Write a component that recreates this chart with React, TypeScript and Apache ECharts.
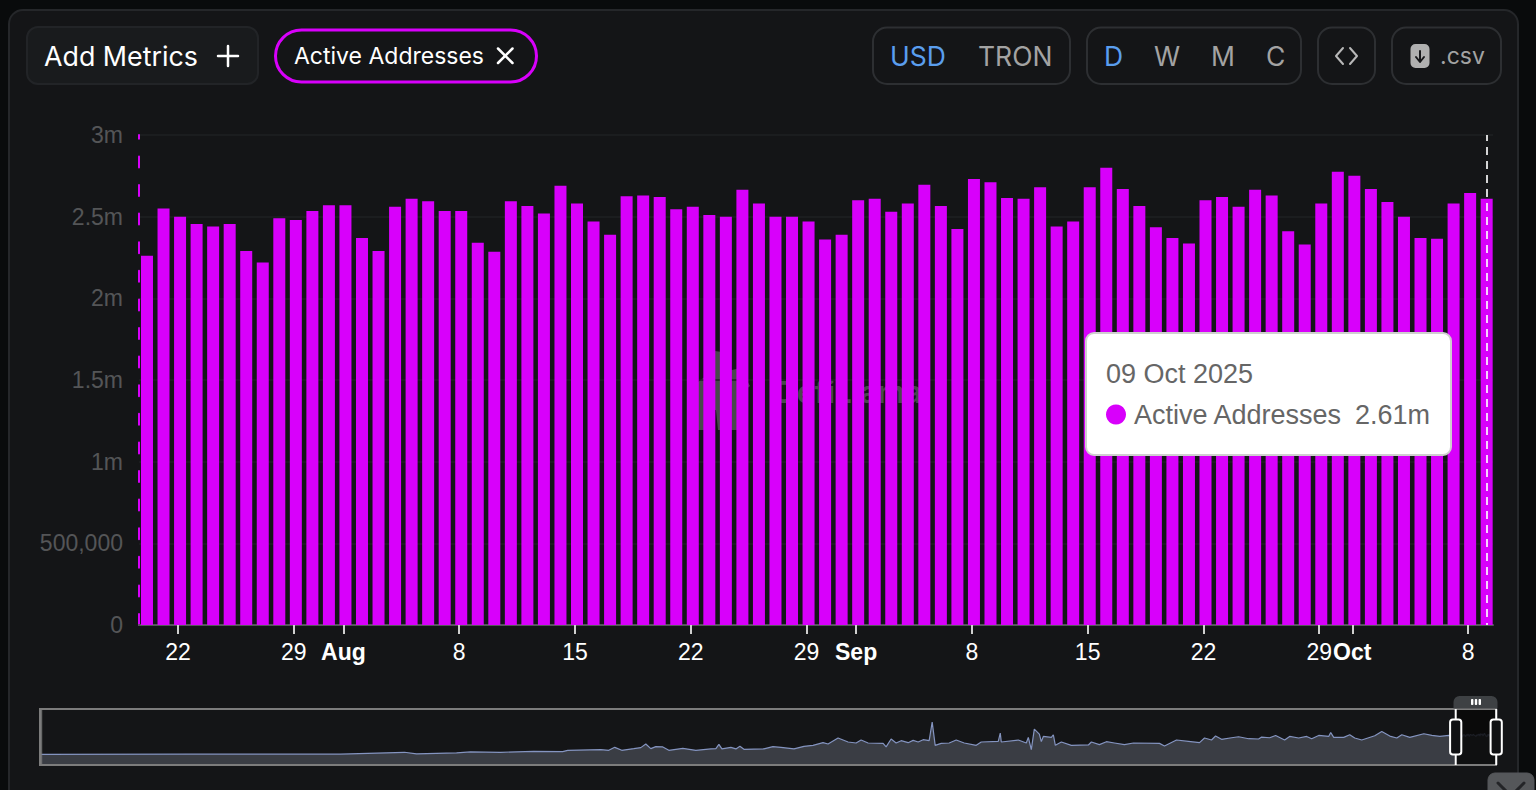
import React, { useEffect, useRef } from "react";
import * as echarts from "echarts";

// Daily active addresses, 20 Jul 2025 .. 09 Oct 2025 (millions)
const FIRST_DAY = [2025, 6, 20];
const barValues = [
  2.26, 2.55, 2.5, 2.455, 2.44, 2.455, 2.29, 2.22, 2.49, 2.48, 2.535, 2.57, 2.57, 2.37, 2.29, 2.56, 2.61,
  2.595, 2.535, 2.535, 2.34, 2.285, 2.595, 2.565, 2.52, 2.69, 2.58, 2.47, 2.39, 2.625, 2.63, 2.62, 2.545,
  2.56, 2.51, 2.5, 2.665, 2.58, 2.5, 2.5, 2.47, 2.36, 2.39, 2.6, 2.61, 2.53, 2.58, 2.695, 2.565, 2.425,
  2.73, 2.71, 2.615, 2.61, 2.68, 2.44, 2.47, 2.68, 2.8, 2.67, 2.565, 2.435, 2.37, 2.335, 2.6, 2.62, 2.56,
  2.665, 2.63, 2.41, 2.33, 2.58, 2.775, 2.75, 2.67, 2.59, 2.5, 2.37, 2.365, 2.58, 2.645, 2.61,
];

// Full history for the overview strip: days since 23 Oct 2017, and millions (same row layout)
const HISTORY_START = [2017, 9, 23];
const overviewDays = [
  0, 300, 600, 728, 752, 832, 860, 920, 986, 1044,
  1054, 1120, 1136, 1148, 1162, 1186, 1200, 1210, 1220, 1230,
  1244, 1256, 1284, 1310, 1340, 1350, 1356, 1362, 1380, 1390,
  1398, 1406, 1446, 1464, 1480, 1506, 1526, 1544, 1564, 1574,
  1594, 1614, 1630, 1640, 1654, 1684, 1690, 1700, 1710, 1720,
  1734, 1744, 1754, 1764, 1776, 1782, 1788, 1800, 1816, 1830,
  1846, 1870, 1880, 1914, 1918, 1920, 1954, 1970, 1974, 1980,
  1986, 1996, 2000, 2004, 2020, 2024, 2028, 2040, 2060, 2094,
  2100, 2116, 2130, 2146, 2166, 2184, 2236, 2246, 2270, 2294,
  2316, 2326, 2340, 2348, 2360, 2380, 2394, 2414, 2434, 2440,
  2456, 2468, 2486, 2496, 2514, 2530, 2540, 2554, 2574, 2578,
  2584, 2604, 2616, 2626, 2640, 2666, 2680, 2696, 2710, 2720,
  2736, 2764, 2780, 2796, 2814,
];
const overviewValues = [
  0.02, 0.05, 0.05, 0.3, 0.1, 0.22, 0.35, 0.3, 0.43, 0.39,
  0.56, 0.65, 0.56, 0.95, 0.56, 0.78, 0.91, 1.39, 0.78, 1.04,
  1.0, 0.56, 0.82, 0.56, 0.74, 0.78, 1.34, 0.74, 0.95, 0.74,
  1.08, 0.69, 0.74, 1.04, 0.95, 0.74, 1.08, 1.21, 1.56, 1.39,
  2.17, 1.65, 1.52, 1.91, 1.52, 1.47, 1.0, 2.04, 1.52, 1.82,
  1.56, 1.86, 1.65, 1.95, 1.82, 4.25, 1.21, 1.47, 1.52, 1.91,
  1.52, 1.21, 1.65, 1.73, 2.82, 1.65, 1.91, 1.52, 2.25, 0.65,
  3.34, 2.69, 1.7, 2.38, 2.25, 2.6, 1.21, 1.65, 1.21, 1.26,
  1.65, 1.3, 1.69, 1.52, 1.3, 1.52, 1.47, 1.13, 1.91, 1.73,
  1.56, 2.17, 1.91, 2.43, 2.0, 2.21, 2.34, 2.08, 2.04, 2.3,
  2.21, 2.51, 1.91, 2.38, 2.17, 2.38, 2.08, 2.51, 2.38, 2.9,
  2.25, 2.25, 2.6, 2.17, 1.91, 2.47, 3.03, 2.43, 2.17, 2.6,
  2.25, 2.73, 2.51, 2.38, 2.51,
];

const yTicksMax = 3000000;
const yTicksStep = 500000;
const metricName = "Active Addresses";
const xLabelMonths = ["Jan", "Feb", "Mar", "Apr", "May", "Jun", "Jul", "Aug", "Sep", "Oct", "Nov", "Dec"];

const DAY = 86400000;
const MAGENTA = "#d800fb";
const SANS = '"Liberation Sans", Arial, sans-serif';
const INTER = "Inter, sans-serif";

const barTime = (i: number) =>
  new Date(FIRST_DAY[0], FIRST_DAY[1], FIRST_DAY[2] + i, 3).getTime();
const fmtValue = (v: number) => {
  if (v >= 1000000) return `${+(v / 1000000).toFixed(2)}m`;
  return v.toLocaleString("en-US");
};

const label = (text: string, x: number, y: number, fill: string, fontSize: number, align = "left", fontFamily = INTER, extra: any = {}) => ({
  type: "text",
  style: { text, x, y, fill, fontSize, fontFamily, align, verticalAlign: "middle", ...extra },
  silent: true,
});
const box = (x: number, y: number, width: number, height: number, r: any, fill: string, stroke: string, lineWidth = 2) => ({
  type: "rect",
  shape: { x, y, width, height, r },
  style: { fill, stroke, lineWidth },
  silent: true,
});
const stroke = (points: number[][], color: string, lineWidth = 2.5) => ({
  type: "polyline",
  shape: { points },
  style: { stroke: color, lineWidth, fill: "none", lineCap: "round", lineJoin: "round" },
  silent: true,
});
const atZ = (z: number, items: any[]) => items.map((it) => ({ ...it, z }));

export default function App() {
  const ref = useRef<HTMLDivElement>(null);
  useEffect(() => {
    if (!ref.current) return;
    const chart = echarts.init(ref.current, undefined, { renderer: "svg" });

    const barData = barValues.map((v, i) => [barTime(i), v * 1000000]);
    const lastIdx = barValues.length - 1;
    const lastTime = barTime(lastIdx);
    const lastValue = barValues[lastIdx] * 1000000;
    const lastDate = new Date(lastTime);
    const tipDate = `${String(lastDate.getDate()).padStart(2, "0")} ${xLabelMonths[lastDate.getMonth()]} ${lastDate.getFullYear()}`;

    // ECharts pads a time axis by half a bar on each side: 1342px at 16.54px per day
    const windowDays = 81.14;
    const windowStart = barTime(0) - 0.12 * DAY;
    const windowEnd = windowStart + windowDays * DAY;
    const sliderMin = windowEnd - ((windowDays * 1456) / 42.5) * DAY;
    const historyStart = new Date(HISTORY_START[0], HISTORY_START[1], HISTORY_START[2]).getTime();

    const overviewData = [
      ...overviewDays.map((d, i) => [historyStart + d * DAY, overviewValues[i] * 1000000]),
      ...barData,
    ];

    chart.setOption({
      animation: false,
      backgroundColor: "#090b0c",
      grid: [
        { left: 139, top: 135, width: 1354, height: 490 },
        { left: 40, top: 709, width: 1456, height: 56 },
      ],
      xAxis: [
        {
          type: "time",
          gridIndex: 0,
          min: sliderMin,
          max: windowEnd,
          splitNumber: 8,
          splitLine: { show: false },
          axisLine: { lineStyle: { color: "#55575a", width: 2 } },
          axisTick: { show: true, length: 9, lineStyle: { color: "#d0d0d0", width: 2 } },
          axisLabel: {
            color: "#fff",
            fontFamily: SANS,
            fontSize: 23,
            margin: 15,
            hideOverlap: false,
            showMinLabel: false,
            showMaxLabel: false,
            formatter: (value: number) => {
              const d = new Date(value);
              return d.getDate() === 1 ? `{m|${xLabelMonths[d.getMonth()]}}` : `${d.getDate()}`;
            },
            rich: { m: { fontWeight: "bold", fontFamily: SANS, fontSize: 23, color: "#fff" } },
          },
        },
        { type: "time", gridIndex: 1, min: historyStart, max: windowEnd, show: false },
      ],
      yAxis: [
        {
          type: "value",
          gridIndex: 0,
          min: 0,
          max: yTicksMax,
          interval: yTicksStep,
          axisLine: { show: true, lineStyle: { color: MAGENTA, width: 2, type: [11, 17.6] } },
          axisTick: { show: false },
          splitLine: { lineStyle: { color: "#1e2023", width: 1.5 } },
          axisLabel: {
            color: "#545557",
            fontFamily: SANS,
            fontSize: 23,
            margin: 16,
            formatter: (v: number) => fmtValue(v),
          },
        },
        { type: "value", gridIndex: 1, min: -1370000, max: 5980000, show: false },
      ],
      dataZoom: [
        {
          type: "slider",
          xAxisIndex: 0,
          filterMode: "none",
          startValue: windowStart,
          endValue: windowEnd,
          left: 40,
          width: 1456,
          top: 709,
          height: 56,
          showDetail: false,
          showDataShadow: false,
          brushSelect: false,
          borderColor: "#7c7c7c",
          borderRadius: 0,
          backgroundColor: "transparent",
          fillerColor: "rgba(8,8,8,0.85)",
          handleSize: "100%",
          handleStyle: { color: "#101113", borderColor: "#ffffff", borderWidth: 2 },
          z: 6,
        },
      ],
      series: [
        {
          type: "bar",
          name: metricName,
          xAxisIndex: 0,
          yAxisIndex: 0,
          data: barData,
          barWidth: 12,
          clip: false,
          itemStyle: { color: MAGENTA },
          z: 3,
          markLine: {
            silent: true,
            symbol: "none",
            label: { show: false },
            lineStyle: { color: "rgba(255,255,255,0.82)", type: [8, 6], dashOffset: 6, width: 2 },
            data: [{ xAxis: lastTime }],
            z: 5,
          },
        },
        {
          type: "line",
          xAxisIndex: 1,
          yAxisIndex: 1,
          data: overviewData,
          showSymbol: false,
          lineStyle: { color: "#8494c0", width: 1.2 },
          areaStyle: { color: "#3a3d44", opacity: 1, origin: "start" },
          z: 1,
        },
      ],
      graphic: [
        // panel
        { ...box(9, 10, 1509, 800, 14, "#141517", "#25272a"), z: -10 },
        // watermark
        ...atZ(-5, [
          {
            type: "polygon",
            shape: {
              points: [
                [708, 350], [722, 352], [724, 372], [740, 368], [750, 386], [738, 396], [738, 430],
                [718, 430], [716, 410], [708, 410], [706, 430], [698, 430], [698, 382], [706, 376],
              ],
            },
            style: { fill: "#48494c" },
            silent: true,
          },
          label("DefiLlama", 775, 392, "#48494c", 30, "left", INTER, { fontWeight: 700 }),
        ]),
        // left toolbar
        box(27, 27, 231, 57, 11, "#191b1d", "#222427"),
        label("Add Metrics", 44, 56, "#ffffff", 26.8),
        stroke([[228, 46], [228, 66]], "#ffffff"),
        stroke([[218, 56], [238, 56]], "#ffffff"),
        box(275.5, 30, 261, 52, 26, "#141517", MAGENTA, 3),
        label(metricName, 294, 56, "#ffffff", 23),
        stroke([[498, 48.5], [512.5, 63]], "#ffffff"),
        stroke([[512.5, 48.5], [498, 63]], "#ffffff"),
        // right toolbar
        box(873, 27.5, 197, 56.5, 14, "transparent", "#2d2f32"),
        label("USD", 890, 56, "#5a9eee", 26.5),
        label("TRON", 978, 56, "#a3a3a3", 26.5),
        box(1087, 27.5, 214, 56.5, 14, "transparent", "#2d2f32"),
        label("D", 1104, 56, "#5a9eee", 26.5),
        label("W", 1154, 56, "#a3a3a3", 26.5),
        label("M", 1211, 56, "#a3a3a3", 26.5),
        label("C", 1266, 56, "#a3a3a3", 26.5),
        box(1318, 27.5, 57, 56.5, 14, "transparent", "#2d2f32"),
        stroke([[1343, 48], [1336, 56], [1343, 64]], "#b8b8b8", 2),
        stroke([[1350, 48], [1357, 56], [1350, 64]], "#b8b8b8", 2),
        box(1392, 27.5, 109, 56.5, 14, "transparent", "#2d2f32"),
        box(1411.5, 45, 17, 22, 4, "#b0b0b0", "#b0b0b0"),
        stroke([[1420, 51], [1420, 61]], "#17181a", 2),
        stroke([[1416, 57], [1420, 62], [1424, 57]], "#17181a", 2),
        label(".csv", 1440, 56, "#a3a3a3", 23),
        // slider frame and top grip (shown by the source on hover)
        { ...box(40, 709, 1456, 56, 0, "transparent", "#7c7c7c", 2), z: 5 },
        ...atZ(7, [
          box(1453.5, 696, 44, 12.5, [6, 6, 0, 0], "#3e4144", "#3e4144", 0),
          box(1471, 699, 2.4, 6, 0.8, "#ffffff", "#ffffff", 0),
          box(1474.8, 699, 2.4, 6, 0.8, "#ffffff", "#ffffff", 0),
          box(1478.6, 699, 2.4, 6, 0.8, "#ffffff", "#ffffff", 0),
        ]),
        // tooltip
        ...atZ(50, [
          box(1086, 333, 365, 122, 8, "#ffffff", "#cfcfcf"),
          label(tipDate, 1106, 374, "#666666", 27, "left", SANS),
          { type: "circle", shape: { cx: 1116, cy: 414.5, r: 10 }, style: { fill: MAGENTA }, silent: true },
          label(metricName, 1134, 415, "#666666", 27, "left", SANS),
          label(fmtValue(lastValue), 1430, 415, "#666666", 27, "right", SANS),
        ]),
        // collapse button
        ...atZ(50, [
          box(1488, 773, 46, 30, 7, "#55575a", "#55575a", 1),
          stroke([[1498, 783], [1511, 796]], "#232427", 3),
          stroke([[1524, 783], [1511, 796]], "#232427", 3),
        ]),
      ],
    });
    return () => chart.dispose();
  }, []);
  return <div ref={ref} style={{ position: "absolute", left: 0, top: 0, width: 1536, height: 790 }} />;
}
